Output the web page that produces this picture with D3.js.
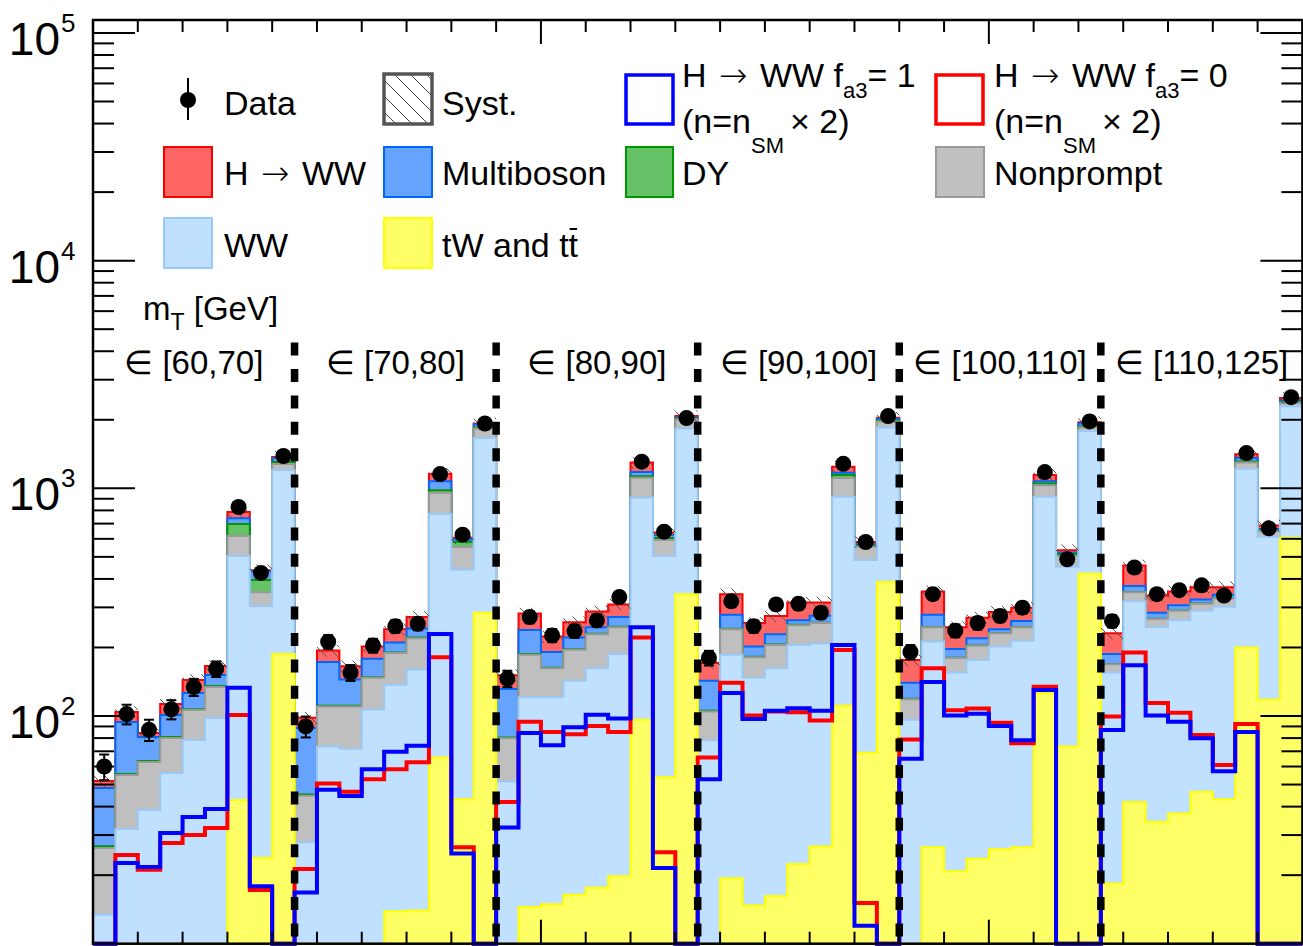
<!DOCTYPE html>
<html lang="en"><head>
<meta charset="utf-8">
<title>mT stack</title>
<script src="https://cdn.jsdelivr.net/npm/d3@7/dist/d3.min.js"></script>
<style>
body { margin: 0; background: #fff; }
svg { display: block; }
text { font-family: "Liberation Sans", Arial, Helvetica, sans-serif; fill: #000; }
</style>
</head>
<body>
<script>

// mT slices, 9 bins each
var mtRanges = ["[60,70]", "[70,80]", "[80,90]", "[90,100]", "[100,110]", "[110,125]"];
var binsPerSlice = 9;

// expected yields per bin (stack order bottom -> top)
var tWtt = [4,4,4,4,4,4,42.8,23.8,187,
            4,4,4,4,13.9,14,65.7,43.1,284,
            4,14.5,14.9,16.4,17.6,19.8,96.2,53.8,343,
            4,19.4,14.7,16.2,22.4,26.7,111,69,388,
            4,26.5,20.8,23.6,26,26.5,126,73.5,422,
            18.4,41.9,34.3,37.3,46.5,43.1,200,118,606];
var WW = [9.4,27.9,34.7,52.2,74.5,94,461,280,1016,
          23.9,69.5,67.9,102.8,123.2,146,705,397,1380,
          47.6,106.5,106.1,126.5,144.4,167.6,815,450,1489,
          74.2,166.4,132.4,145.8,182.8,181.3,807,415,1460,
          92.2,185.7,134.6,152.4,176,187.6,792,379,1365,
          137,277.4,211.2,226.1,243.5,259.2,1019,495.5,1688];
var nonprompt = [12.9,23.2,24.1,23.9,27.8,36,113,46,76,
                 16.7,36.5,38.1,40.3,52,59.4,186,113,168,
                 28.2,64.8,41,52.4,66.7,58.1,201,89.5,177,
                 26.5,54.8,34.1,43.2,45.5,48.1,193.5,69.2,119,
                 22.3,33.3,24.3,27.6,28.8,31.4,113.5,51.5,61,
                 13.4,30.5,21.4,26.6,21.3,26.2,78,33.9,77];
var DY = [0.5,0.5,0.6,0.8,0.7,1.5,80,45.5,26,
          0.6,0.9,0.9,0.9,0.9,1.6,25,28,18,
          0.7,1.2,1,1,1,1,18,12.1,15,
          0.8,1,0.8,1,0.7,0.9,32,5,20,
          0.5,0.8,0.7,0.6,0.5,0.8,18,11,20,
          0.5,0.5,0.5,0.5,0.5,0.5,15,5,20];
var multiboson = [21.5,38.5,17.5,20.1,19.2,15.9,43,37.5,54,
                  43.4,61.8,33.9,30.3,20.5,21.5,93,15,60,
                  51,51.6,28.2,25.1,15.8,25.9,49,20.4,22,
                  37.4,36.7,20,22.5,12,19,26,12,33,
                  21,32,16.5,15.2,9.3,15,25,7,58,
                  18.1,22.1,16.6,15.9,12.7,12,47,9.6,49];
var HWW = [3.5,10,3.3,11.9,17.7,14.4,47,4,14,
           9.7,21.1,20.5,23.7,30.1,29.9,84,10,16,
           19.4,43.1,32,36.8,42.2,36.6,118,13.5,31,
           28,64.4,54.1,46.2,51.8,39.2,74,11,22,
           36,74.3,48.6,50.8,46,37.4,70,12.8,25,
           43.4,86.1,54.2,46.2,43.5,27,51,24.6,55];

var dataCounts = [60,102,87,107,134,161,828,425,1387,
                  90,212,155,204,248,254,1155,626,1926,
                  146,272,226,236,263,333,1309,645,2034,
                  180,319,248,309,311,284,1281,581,2077,
                  191,343,237,256,275,299,1179,488,1967,
                  261,449,343,357,375,338,1428,667,2515];

// signal hypotheses (n = n_SM x 2)
var fa3one = [0,22.6,21.7,30.6,36,39,133,17.9,0,
              16.8,47.5,44.5,58.4,69.6,74.1,229,24.9,0,
              32.4,84.2,74.4,89.3,101.2,97.5,245.5,21.5,0,
              52.7,126.2,97.1,105.5,108.2,105.5,205,12,0,
              64.9,141,100.4,102.4,90.5,78.2,130,0,0,
              86.8,167,100.4,94.3,79.8,57.2,85,0,0];
var fa3zero = [0,24.5,21.1,27.7,30,32.2,101,17.2,0,
               21.3,50.5,46.5,52.7,58.4,62.7,181,26.5,0,
               41.9,94.3,85,83.2,90.5,85,221,25.2,0,
               65.7,140,100.4,104.7,103.8,95.5,195,15.1,0,
               78.9,162,105.9,107.8,93.5,76,134.4,0,0,
               99.5,190,114,103.3,82.5,60.9,92.3,0,0];

var systFrac = 0.06;
var dividerTop = 5000;

var nBins = dataCounts.length;
var width = 1303, height = 946;

var svg = d3.select("body").append("svg")
  .attr("width", width)
  .attr("height", height);

var x = d3.scaleLinear().domain([0, nBins]).range([93, 1302.4]);
var y = d3.scaleLog().domain([10, 1.14e5]).range([943.7, 20]).clamp(true);
var yBottom = y.range()[0];

var defs = svg.append("defs");
var hatch = defs.append("pattern").attr("id", "hatch")
  .attr("patternUnits", "userSpaceOnUse").attr("width", 11).attr("height", 11);
hatch.append("path").attr("d", "M-2,-2 L13,13 M-7,4 L7,18 M4,-7 L18,7")
  .attr("stroke", "#555").attr("stroke-width", 1);
var hatchBig = defs.append("pattern").attr("id", "hatchBig")
  .attr("patternUnits", "userSpaceOnUse").attr("width", 16).attr("height", 16);
hatchBig.append("path").attr("d", "M-2,-2 L18,18 M-10,6 L10,26 M6,-10 L26,10")
  .attr("stroke", "#444").attr("stroke-width", 1);

// ---- stack ----
var procs = [
  {key: "tW", vals: tWtt, fill: "#ffff66", line: "#ffff00"},
  {key: "WW", vals: WW, fill: "#c0e0ff", line: "#99c9f7"},
  {key: "NP", vals: nonprompt, fill: "#bfbfbf", line: "#999999"},
  {key: "DY", vals: DY, fill: "#66c266", line: "#009900"},
  {key: "MB", vals: multiboson, fill: "#66a3ff", line: "#0066ff"},
  {key: "H", vals: HWW, fill: "#ff6666", line: "#ff0000"}
];

var rows = d3.range(nBins).map(function(i){
  var r = {};
  procs.forEach(function(p){ r[p.key] = p.vals[i]; });
  return r;
});
var series = d3.stack().keys(procs.map(function(p){ return p.key; }))(rows);

function stepPts(vals){
  var pts = vals.map(function(v, i){ return [i, v]; });
  pts.push([vals.length, vals[vals.length - 1]]);
  return pts;
}

var area = d3.area().curve(d3.curveStepAfter)
  .x(function(d){ return x(d[0]); })
  .y0(yBottom)
  .y1(function(d){ return y(d[1]); });

var line = d3.line().curve(d3.curveStepAfter)
  .x(function(d){ return x(d[0]); })
  .y(function(d){ return y(d[1]); });

var gStack = svg.append("g");
// ROOT-like: draw cumulative sums from the top one down
for (var s = series.length - 1; s >= 0; s--) {
  var tops = series[s].map(function(d){ return d[1]; });
  gStack.append("path")
    .attr("d", area(stepPts(tops)))
    .attr("fill", procs[s].fill)
    .attr("stroke", procs[s].line)
    .attr("stroke-width", 2);
}

// syst band
var totals = series[series.length - 1].map(function(d){ return d[1]; });
svg.append("g").selectAll("rect")
  .data(totals).enter().append("rect")
  .attr("x", function(d, i){ return x(i); })
  .attr("width", function(d, i){ return x(i + 1) - x(i); })
  .attr("y", function(d){ return y(d * (1 + systFrac)); })
  .attr("height", function(d){ return y(d * (1 - systFrac)) - y(d * (1 + systFrac)); })
  .attr("fill", "url(#hatch)");

// signal lines
svg.append("path").attr("d", line(stepPts(fa3zero)))
  .attr("fill", "none").attr("stroke", "#ff0000").attr("stroke-width", 4);
svg.append("path").attr("d", line(stepPts(fa3one)))
  .attr("fill", "none").attr("stroke", "#0000ff").attr("stroke-width", 4);

// slice dividers
d3.range(1, mtRanges.length).forEach(function(k){
  svg.append("line")
    .attr("x1", x(k * binsPerSlice)).attr("x2", x(k * binsPerSlice))
    .attr("y1", y(dividerTop)).attr("y2", yBottom)
    .attr("stroke", "#000").attr("stroke-width", 7.5)
    .attr("stroke-dasharray", "13,13.4").attr("stroke-dashoffset", 13);
});

// data
var gData = svg.append("g");
dataCounts.forEach(function(d, i){
  var cx = x(i + 0.5), e = Math.sqrt(d);
  var yHi = y(d + e), yLo = y(d - e);
  gData.append("line").attr("x1", cx).attr("x2", cx).attr("y1", yHi).attr("y2", yLo)
    .attr("stroke", "#000").attr("stroke-width", 2);
  [yHi, yLo].forEach(function(yy){
    gData.append("line").attr("x1", cx - 5).attr("x2", cx + 5).attr("y1", yy).attr("y2", yy)
      .attr("stroke", "#000").attr("stroke-width", 2);
  });
  gData.append("circle").attr("cx", cx).attr("cy", y(d)).attr("r", 8).attr("fill", "#000");
});

// ---- axes & frame ----
var gAx = svg.append("g").attr("stroke", "#000").attr("stroke-width", 2);
var x0 = x.range()[0], x1 = x.range()[1], yTop = y.range()[1];
d3.range(1, 6).forEach(function(p){
  for (var m = 1; m <= 9; m++) {
    var v = m * Math.pow(10, p);
    if (v <= 10 || v > y.domain()[1]) continue;
    var len = m === 1 ? 42 : 21;
    gAx.append("line").attr("x1", x0).attr("x2", x0 + len).attr("y1", y(v)).attr("y2", y(v));
    gAx.append("line").attr("x1", x1).attr("x2", x1 - len).attr("y1", y(v)).attr("y2", y(v));
  }
});
d3.range(2, nBins, 2).forEach(function(t){
  var len = t % 20 === 0 ? 24 : 12;
  gAx.append("line").attr("x1", x(t)).attr("x2", x(t)).attr("y1", yBottom).attr("y2", yBottom - len);
  gAx.append("line").attr("x1", x(t)).attr("x2", x(t)).attr("y1", yTop).attr("y2", yTop + len);
});
svg.append("rect").attr("x", x0).attr("y", yTop).attr("width", x1 - x0).attr("height", yBottom - yTop)
  .attr("fill", "none").attr("stroke", "#000").attr("stroke-width", 2.5);

// y labels 10^p
d3.range(2, 6).forEach(function(p){
  var yy = y(Math.pow(10, p));
  svg.append("text").attr("x", 60).attr("y", yy + 22).attr("text-anchor", "end")
    .attr("font-size", 46).text("10");
  svg.append("text").attr("x", 61).attr("y", yy - 1)
    .attr("font-size", 26).text(p);
});

// slice labels
var mt = svg.append("text").attr("x", 143).attr("y", 320).attr("font-size", 33);
mt.append("tspan").text("m");
mt.append("tspan").attr("font-size", 23).attr("dy", 10).text("T");
mt.append("tspan").attr("dy", -10).text(" [GeV]");
mtRanges.forEach(function(r, k){
  svg.append("text")
    .attr("x", (x(k * binsPerSlice) + x((k + 1) * binsPerSlice)) / 2)
    .attr("y", 374).attr("text-anchor", "middle").attr("font-size", 33)
    .text("\u2208 " + r);
});

// ---- legend ----
var leg = svg.append("g");
function box(bx, by, w, fill, stroke, sw){
  leg.append("rect").attr("x", bx).attr("y", by).attr("width", w).attr("height", 50)
    .attr("fill", fill).attr("stroke", stroke).attr("stroke-width", sw);
}
function label(tx, ty, str){
  return leg.append("text").attr("x", tx).attr("y", ty).attr("font-size", 34).text(str);
}
// "H -> WW" with a long arrow like TLatex #rightarrow
function hww(t){
  t.append("tspan").text("H ");
  t.append("tspan").attr("font-family", "'DejaVu Sans'").attr("font-weight", 200).attr("dx", 3).text("\u2192");
  t.append("tspan").attr("dx", 3).text(" WW");
}

leg.append("line").attr("x1", 188).attr("x2", 188).attr("y1", 78).attr("y2", 120)
  .attr("stroke", "#000").attr("stroke-width", 2);
leg.append("circle").attr("cx", 188).attr("cy", 100).attr("r", 8).attr("fill", "#000");
label(224, 115, "Data");

box(384, 74, 48, "url(#hatchBig)", "#555", 3.5);
label(442, 115, "Syst.");

box(164, 147, 48, "#ff6666", "#ff0000", 2);
hww(label(224, 185, ""));
box(384, 147, 48, "#66a3ff", "#0066ff", 2);
label(442, 185, "Multiboson");
box(626, 147, 47, "#66c266", "#009900", 2);
label(682, 185, "DY");
box(936, 147, 48, "#bfbfbf", "#999999", 2);
label(994, 185, "Nonprompt");

box(164, 218, 48, "#c0e0ff", "#99c9f7", 2);
label(224, 257, "WW");
box(384, 218, 48, "#ffff66", "#ffff00", 2);
var tt = label(442, 257, "tW and tt");
var ext = tt.node().getExtentOfChar(8);
leg.append("line").attr("x1", ext.x + 1).attr("x2", ext.x + ext.width - 1)
  .attr("y1", 229).attr("y2", 229).attr("stroke", "#000").attr("stroke-width", 2);

function sigEntry(bx, tx, colour, val){
  leg.append("rect").attr("x", bx).attr("y", 75).attr("width", 47).attr("height", 49)
    .attr("fill", "none").attr("stroke", colour).attr("stroke-width", 3.5);
  var t1 = label(tx, 87, "");
  hww(t1);
  t1.append("tspan").text(" f");
  t1.append("tspan").attr("font-size", 22).attr("dy", 11).text("a3");
  t1.append("tspan").attr("dy", -11).text("= " + val);
  var t2 = label(tx, 133, "");
  t2.append("tspan").text("(n=n");
  t2.append("tspan").attr("font-size", 22).attr("dy", 20).text("SM");
  t2.append("tspan").attr("dy", -20).attr("dx", 6).text("\u00d7 2)");
}
sigEntry(626, 682, "#0000ff", 1);
sigEntry(936, 994, "#ff0000", 0);

</script>
</body></html>
